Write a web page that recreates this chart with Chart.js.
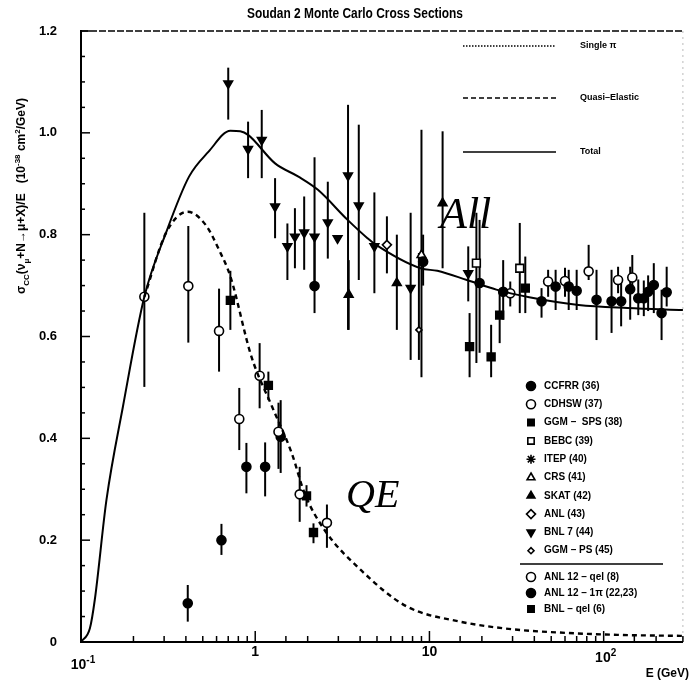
<!DOCTYPE html>
<html>
<head>
<meta charset="utf-8">
<script src="https://cdn.jsdelivr.net/npm/chart.js@4.4.1/dist/chart.umd.min.js"></script>
<style>
  html, body { margin: 0; padding: 0; background: #fff; }
  canvas { display: block; }
</style>
</head>
<body>
<canvas id="chart" width="690" height="684" style="width:690px;height:684px"></canvas>
<script>
// model curves (E in GeV, sigma/E)
const totalE = [0.1, 0.1125, 0.12, 0.14, 0.174, 0.231, 0.307, 0.417, 0.54, 0.72, 0.82, 0.91, 1.3, 1.77, 2.29, 3.39, 4.41, 4.8, 8.9, 11.1, 16.4, 24.2, 37.4, 71.8, 137, 285];
const totalY = [0, 0.027, 0.083, 0.279, 0.462, 0.678, 0.803, 0.914, 0.963, 1.004, 1.003, 0.996, 0.94, 0.914, 0.888, 0.829, 0.793, 0.783, 0.734, 0.729, 0.711, 0.692, 0.677, 0.662, 0.656, 0.652];
const qeE = [0.231, 0.307, 0.41, 0.52, 0.62, 0.72, 0.95, 1.25, 1.62, 1.92, 2.5, 4.05, 7.3, 15, 30, 60, 120, 285];
const qeY = [0.678, 0.803, 0.845, 0.819, 0.77, 0.718, 0.561, 0.462, 0.371, 0.292, 0.22, 0.141, 0.071, 0.04, 0.025, 0.018, 0.014, 0.012];

// measurements: energy, value, error bar low / high
const ccfrrE = [2.19, 9.2, 19.4, 26.5, 44, 53, 63, 70, 91, 111, 126, 142, 158, 170, 180, 194, 215, 230];
const ccfrrY = [0.699, 0.747, 0.705, 0.688, 0.669, 0.698, 0.698, 0.69, 0.672, 0.669, 0.669, 0.693, 0.675, 0.675, 0.688, 0.701, 0.646, 0.687];
const ccfrrLo = [0.646, 0.7, 0.568, 0.633, 0.637, 0.652, 0.652, 0.652, 0.593, 0.607, 0.62, 0.633, 0.642, 0.64, 0.65, 0.646, 0.593, 0.659];
const ccfrrHi = [0.8, 0.8, 0.829, 0.75, 0.695, 0.731, 0.731, 0.731, 0.731, 0.731, 0.712, 0.737, 0.712, 0.71, 0.72, 0.744, 0.692, 0.737];

const cdhswE = [29.1, 48, 60, 82, 121, 146];
const cdhswY = [0.685, 0.708, 0.709, 0.728, 0.711, 0.716];
const cdhswLo = [0.659, 0.678, 0.678, 0.711, 0.685, 0.69];
const cdhswHi = [0.708, 0.731, 0.735, 0.78, 0.737, 0.76];

const ggmSpsE = [17, 22.6, 25.3, 35.5];
const ggmSpsY = [0.58, 0.56, 0.642, 0.695];
const ggmSpsLo = [0.52, 0.52, 0.587, 0.646];
const ggmSpsHi = [0.646, 0.623, 0.686, 0.757];

const bebcE = [18.6, 33];
const bebcY = [0.744, 0.734];
const bebcLo = [0.548, 0.646];
const bebcHi = [0.843, 0.823];

const crsE = [9.0];
const crsY = [0.76];
const crsLo = [0.52];
const crsHi = [1.006];

const skatE = [3.44, 6.5, 11.9];
const skatY = [0.682, 0.705, 0.862];
const skatLo = [0.613, 0.613, 0.734];
const skatHi = [0.75, 0.8, 1.003];

const anlE = [5.7];
const anlY = [0.78];
const anlLo = [0.724];
const anlHi = [0.836];

const bnl7E = [0.7, 0.91, 1.09, 1.3, 1.53, 1.69, 1.91, 2.19, 2.61, 2.97, 3.41, 3.93, 4.83, 7.8, 16.7];
const bnl7Y = [1.097, 0.968, 0.986, 0.855, 0.777, 0.796, 0.804, 0.796, 0.824, 0.793, 0.916, 0.857, 0.777, 0.695, 0.724];
const bnl7Lo = [1.026, 0.911, 0.911, 0.793, 0.711, 0.734, 0.731, 0.7, 0.753, 0.793, 0.613, 0.711, 0.685, 0.554, 0.669];
const bnl7Hi = [1.128, 1.022, 1.045, 0.911, 0.822, 0.852, 0.875, 0.952, 0.904, 0.793, 1.055, 1.016, 0.883, 0.843, 0.777];

const ggmPsE = [8.7];
const ggmPsY = [0.613];
const ggmPsLo = [0.554];
const ggmPsHi = [0.764];

const anl12QelE = [0.231, 0.413, 0.62, 0.81, 1.06, 1.36, 1.8, 2.58];
const anl12QelY = [0.678, 0.699, 0.611, 0.438, 0.523, 0.413, 0.29, 0.234];
const anl12QelLo = [0.501, 0.588, 0.531, 0.377, 0.459, 0.34, 0.236, 0.185];
const anl12QelHi = [0.843, 0.817, 0.694, 0.499, 0.587, 0.47, 0.344, 0.27];

const anl12PiE = [0.41, 0.64, 0.89, 1.14, 1.4];
const anl12PiY = [0.076, 0.2, 0.344, 0.344, 0.403];
const anl12PiLo = [0.04, 0.171, 0.292, 0.286, 0.332];
const anl12PiHi = [0.112, 0.232, 0.391, 0.392, 0.475];

const bnlQelE = [0.72, 1.19, 1.97, 2.16];
const bnlQelY = [0.671, 0.504, 0.287, 0.215];
const bnlQelLo = [0.613, 0.475, 0.266, 0.194];
const bnlQelHi = [0.729, 0.531, 0.308, 0.233];

const xMajor = [0.1, 1, 10, 100];
const xMajorLabels = [["10", "-1"], ["1", ""], ["10", ""], ["10", "2"]];

const curveLegend = ["Single \u03c0", "Quasi\u2013Elastic", "Total"];
const markerLegend = ["CCFRR (36)", "CDHSW (37)", "GGM \u2013  SPS (38)", "BEBC (39)", "ITEP (40)",
  "CRS (41)", "SKAT (42)", "ANL (43)", "BNL 7 (44)", "GGM \u2013 PS (45)",
  "ANL 12 \u2013 qel (8)", "ANL 12 \u2013 1\u03c0 (22,23)", "BNL \u2013 qel (6)"];

const SANS = '"Liberation Sans", Arial, sans-serif';
const SERIF = '"Liberation Serif", "Times New Roman", serif';

function toXY(E, Y) {
  return E.map((e, i) => ({ x: e, y: Y[i] }));
}

function points(label, E, Y, lo, hi, style) {
  return {
    label: label,
    data: toXY(E, Y),
    errLo: lo,
    errHi: hi,
    showLine: false,
    pointStyle: style.shape,
    pointRadius: style.r || 4.5,
    pointRotation: style.rot || 0,
    pointBackgroundColor: style.open ? "#fff" : "#000",
    pointBorderColor: "#000",
    pointBorderWidth: 1.6,
  };
}

const styles = {
  ccfrr: { shape: "circle" },
  cdhsw: { shape: "circle", open: true },
  ggmSps: { shape: "rect", r: 5.5 },
  bebc: { shape: "rect", r: 5.5, open: true },
  itep: { shape: "star" },
  crs: { shape: "triangle", open: true, r: 5 },
  skat: { shape: "triangle", r: 5 },
  anl: { shape: "rectRot", open: true, r: 4.5 },
  bnl7: { shape: "triangle", r: 5, rot: 180 },
  ggmPs: { shape: "rectRot", open: true, r: 3 },
  anl12Qel: { shape: "circle", open: true },
  anl12Pi: { shape: "circle" },
  bnlQel: { shape: "rect", r: 5.5 },
};

// vertical error bars, drawn under the markers
const errorBars = {
  id: "errorBars",
  beforeDatasetsDraw(chart) {
    const ctx = chart.ctx;
    const xs = chart.scales.x, ys = chart.scales.y;
    ctx.save();
    ctx.strokeStyle = "#000";
    ctx.lineWidth = 2;
    chart.data.datasets.forEach((ds) => {
      if (!ds.errLo) return;
      ds.data.forEach((p, j) => {
        if (ds.errLo[j] === ds.errHi[j]) return;
        const x = xs.getPixelForValue(p.x);
        ctx.beginPath();
        ctx.moveTo(x, ys.getPixelForValue(ds.errLo[j]));
        ctx.lineTo(x, ys.getPixelForValue(ds.errHi[j]));
        ctx.stroke();
      });
    });
    ctx.restore();
  },
};

function richText(ctx, parts, x, y, size, align) {
  // parts: [text, "n" | "sub" | "sup"]
  const small = Math.round(size * 0.7);
  const fontFor = (m) => "bold " + (m === "n" ? size : small) + "px " + SANS;
  let w = 0;
  parts.forEach(([t, m]) => { ctx.font = fontFor(m); w += ctx.measureText(t).width; });
  let cx = align === "center" ? x - w / 2 : align === "right" ? x - w : x;
  parts.forEach(([t, m]) => {
    ctx.font = fontFor(m);
    const dy = m === "sub" ? size * 0.3 : m === "sup" ? -size * 0.45 : 0;
    ctx.fillText(t, cx, y + dy);
    cx += ctx.measureText(t).width;
  });
}

const decorations = {
  id: "decorations",
  afterDraw(chart) {
    const ctx = chart.ctx;
    const area = chart.chartArea;
    const xs = chart.scales.x, ys = chart.scales.y;
    ctx.save();
    ctx.fillStyle = "#000";
    ctx.strokeStyle = "#000";

    // top and right frame
    ctx.lineWidth = 1.3;
    ctx.setLineDash([7, 2]);
    ctx.beginPath();
    ctx.moveTo(area.left, area.top);
    ctx.lineTo(area.right, area.top);
    ctx.stroke();
    ctx.strokeStyle = "#bbb";
    ctx.lineWidth = 1;
    ctx.setLineDash([2, 4]);
    ctx.beginPath();
    ctx.moveTo(area.right, area.top);
    ctx.lineTo(area.right, area.bottom);
    ctx.stroke();
    ctx.setLineDash([]);
    ctx.strokeStyle = "#000";

    // inward ticks on the y axis
    ctx.lineWidth = 1.5;
    for (let k = 0; k <= 24; k++) {
      const v = k * 0.05;
      const y = ys.getPixelForValue(v);
      const len = k % 4 === 0 ? 9 : 4;
      ctx.beginPath();
      ctx.moveTo(area.left, y);
      ctx.lineTo(area.left + len, y);
      ctx.stroke();
    }
    // inward ticks on the log x axis
    xs.ticks.forEach((t) => {
      const v = t.value;
      const lg = Math.log10(v);
      const major = Math.abs(lg - Math.round(lg)) < 1e-6;
      const x = xs.getPixelForValue(v);
      ctx.beginPath();
      ctx.moveTo(x, area.bottom);
      ctx.lineTo(x, area.bottom - (major ? 11 : 6));
      ctx.stroke();
    });

    // x tick labels with exponents
    ctx.textBaseline = "alphabetic";
    xMajor.forEach((v, i) => {
      const [base, exp] = xMajorLabels[i];
      const x = xs.getPixelForValue(v);
      const y = exp ? (v < 1 ? 669 : 662) : 656;
      const parts = exp ? [[base, "n"], [exp, "sup"]] : [[base, "n"]];
      richText(ctx, parts, x + (exp ? 2 : 0), y, 14, "center");
    });
    ctx.font = "bold 12px " + SANS;
    ctx.textAlign = "right";
    ctx.fillText("E (GeV)", 689, 677);
    ctx.textAlign = "left";

    // title, slightly condensed
    ctx.save();
    ctx.font = "bold 14px " + SANS;
    const title = "Soudan 2 Monte Carlo Cross Sections";
    const tw = ctx.measureText(title).width;
    ctx.translate(355, 18);
    ctx.scale(216 / tw, 1);
    ctx.textAlign = "center";
    ctx.fillText(title, 0, 0);
    ctx.restore();

    // y axis title (rotated)
    ctx.save();
    ctx.translate(21, 196);
    ctx.rotate(-Math.PI / 2);
    richText(ctx, [["\u03c3", "n"], ["CC", "sub"], ["(\u03bd", "n"], ["\u03bc", "sub"],
      ["+N\u2192\u03bc+X)/E   (10", "n"], ["-38", "sup"], [" cm", "n"], ["2", "sup"], ["/GeV)", "n"]],
      0, 4, 12, "center");
    ctx.restore();

    // curve legend
    const lineY = [46, 98, 152];
    const dashes = [[1.5, 1.5], [5, 3], []];
    curveLegend.forEach((txt, i) => {
      ctx.lineWidth = 1.6;
      ctx.setLineDash(dashes[i]);
      ctx.beginPath();
      ctx.moveTo(463, lineY[i]);
      ctx.lineTo(556, lineY[i]);
      ctx.stroke();
      ctx.setLineDash([]);
      ctx.font = "bold 9px " + SANS;
      ctx.fillText(txt, 580, lineY[i] + 2);
    });

    // marker legend
    const keys = ["ccfrr", "cdhsw", "ggmSps", "bebc", "itep", "crs", "skat", "anl", "bnl7", "ggmPs", "anl12Qel", "anl12Pi", "bnlQel"];
    const rowY = [];
    for (let i = 0; i < 10; i++) rowY.push(386 + i * 18.3);
    rowY.push(577, 593, 609);
    keys.forEach((k, i) => {
      const st = styles[k];
      ctx.fillStyle = st.open ? "#fff" : "#000";
      ctx.strokeStyle = "#000";
      ctx.lineWidth = 1.6;
      Chart.helpers.drawPoint(ctx, {
        pointStyle: st.shape,
        radius: Math.min(st.r || 4.5, 4.5),
        rotation: st.rot || 0,
        borderWidth: 1.6,
      }, 531, rowY[i]);
      ctx.fillStyle = "#000";
      ctx.font = "bold 10px " + SANS;
      ctx.textBaseline = "middle";
      ctx.fillText(markerLegend[i], 544, rowY[i]);
    });
    ctx.textBaseline = "alphabetic";
    ctx.lineWidth = 1.5;
    ctx.beginPath();
    ctx.moveTo(520, 564);
    ctx.lineTo(663, 564);
    ctx.stroke();

    // annotations
    ctx.font = "italic 44px " + SERIF;
    ctx.fillText("All", 440, 228);
    ctx.font = "italic 40px " + SERIF;
    ctx.fillText("QE", 346, 507);
    ctx.restore();
  },
};

const datasets = [
  {
    label: "Total",
    data: toXY(totalE, totalY),
    showLine: true,
    borderColor: "#000",
    borderWidth: 2,
    pointRadius: 0,
    cubicInterpolationMode: "monotone",
  },
  {
    label: "Quasi-Elastic",
    data: toXY(qeE, qeY),
    showLine: true,
    borderColor: "#000",
    borderWidth: 2.4,
    borderDash: [5, 4],
    pointRadius: 0,
    cubicInterpolationMode: "monotone",
  },
  points("CCFRR (36)", ccfrrE, ccfrrY, ccfrrLo, ccfrrHi, styles.ccfrr),
  points("CDHSW (37)", cdhswE, cdhswY, cdhswLo, cdhswHi, styles.cdhsw),
  points("GGM - SPS (38)", ggmSpsE, ggmSpsY, ggmSpsLo, ggmSpsHi, styles.ggmSps),
  points("BEBC (39)", bebcE, bebcY, bebcLo, bebcHi, styles.bebc),
  points("CRS (41)", crsE, crsY, crsLo, crsHi, styles.crs),
  points("SKAT (42)", skatE, skatY, skatLo, skatHi, styles.skat),
  points("ANL (43)", anlE, anlY, anlLo, anlHi, styles.anl),
  points("BNL 7 (44)", bnl7E, bnl7Y, bnl7Lo, bnl7Hi, styles.bnl7),
  points("GGM - PS (45)", ggmPsE, ggmPsY, ggmPsLo, ggmPsHi, styles.ggmPs),
  points("ANL 12 - qel (8)", anl12QelE, anl12QelY, anl12QelLo, anl12QelHi, styles.anl12Qel),
  points("ANL 12 - 1pi (22,23)", anl12PiE, anl12PiY, anl12PiLo, anl12PiHi, styles.anl12Pi),
  points("BNL - qel (6)", bnlQelE, bnlQelY, bnlQelLo, bnlQelHi, styles.bnlQel),
];

new Chart(document.getElementById("chart").getContext("2d"), {
  type: "scatter",
  data: { datasets: datasets },
  options: {
    responsive: false,
    animation: false,
    devicePixelRatio: 1,
    layout: { padding: { top: 31, right: 2, left: 0, bottom: 0 } },
    plugins: { legend: { display: false }, tooltip: { enabled: false } },
    scales: {
      x: {
        type: "logarithmic",
        min: 0.1,
        max: 285,
        afterFit: (s) => { s.height = 42; },
        grid: { display: false },
        border: { display: true, color: "#000", width: 2 },
        ticks: { display: false, autoSkip: false },
      },
      y: {
        min: 0,
        max: 1.2,
        afterFit: (s) => { s.width = 81; },
        grid: { display: false },
        border: { display: true, color: "#000", width: 2 },
        ticks: {
          stepSize: 0.2,
          padding: 16,
          color: "#000",
          font: { family: SANS, size: 13, weight: "bold" },
        },
      },
    },
  },
  plugins: [errorBars, decorations],
});
</script>
</body>
</html>
